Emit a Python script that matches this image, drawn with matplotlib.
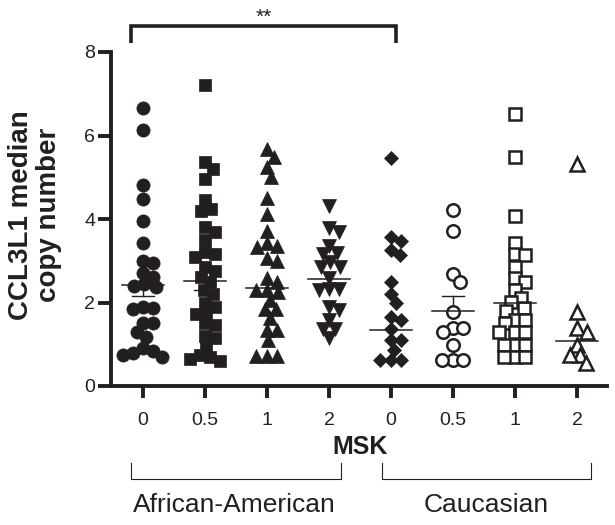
import numpy as np
import matplotlib
matplotlib.use("Agg")
import matplotlib.pyplot as plt
from matplotlib.transforms import blended_transform_factory

plt.rcParams['font.family'] = ['Liberation Sans', 'DejaVu Sans']

INK = '#231f20'

# ---- data ----
tick_labels = ['0', '0.5', '1', '2', '0', '0.5', '1', '2']
g_aa_0 = [6.67, 6.13, 4.81, 4.48, 3.95, 3.42, 3.00, 2.95, 2.70, 2.62, 2.45, 2.40, 2.38,
          1.90, 1.86, 1.85, 1.50, 1.50, 1.30, 1.18, 0.90, 0.85, 0.80, 0.75, 0.70]
g_aa_05 = [7.20, 5.37, 5.20, 4.95, 4.45, 4.25, 4.20, 3.80, 3.70, 3.50, 3.20, 3.15, 3.10,
           2.85, 2.75, 2.62, 2.50, 2.30, 2.20, 2.00, 1.90, 1.75, 1.72, 1.50, 1.45, 1.20,
           1.15, 0.95, 0.75, 0.70, 0.65, 0.60]
g_aa_1 = [5.68, 5.49, 5.24, 5.01, 4.51, 4.12, 3.71, 3.42, 3.35, 3.34, 3.06, 2.99, 2.58,
          2.50, 2.30, 2.30, 2.25, 2.06, 1.84, 1.84, 1.62, 1.34, 1.34, 1.09, 0.72, 0.72, 0.72]
g_aa_2 = [4.30, 3.78, 3.68, 3.35, 3.19, 3.15, 2.98, 2.86, 2.86, 2.58, 2.32, 2.32, 2.30,
          1.90, 1.82, 1.58, 1.37, 1.37, 1.14]
g_ca_0 = [5.45, 3.58, 3.48, 3.26, 3.14, 2.50, 2.20, 1.98, 1.66, 1.58, 1.36, 1.10, 1.10,
          0.86, 0.62, 0.62, 0.62]
g_ca_05 = [4.22, 3.72, 2.68, 2.50, 1.78, 1.40, 1.38, 1.30, 0.98, 0.62, 0.62, 0.62]
g_ca_1 = [6.51, 5.49, 4.08, 3.42, 3.16, 3.14, 2.86, 2.58, 2.50, 2.30, 2.10, 2.02, 1.86,
          1.80, 1.58, 1.58, 1.50, 1.30, 1.30, 1.30, 0.98, 0.98, 0.98, 0.69, 0.69, 0.69]
g_ca_2 = [5.32, 1.78, 1.38, 1.30, 0.98, 0.74, 0.74, 0.54]
centre_values = [2.41, 2.51, 2.34, 2.56, 1.34, 1.80, 2.00, 1.08]
# visible parts of the SEM whiskers (below / above the centre line)
err_below = [0.25, 0.21, 0.0, 0.0, 0.0, 0.0, 0.0, 0.0]
err_above = [0.0, 0.0, 0.0, 0.0, 0.0, 0.36, 0.0, 0.0]
groups = [g_aa_0, g_aa_05, g_aa_1, g_aa_2, g_ca_0, g_ca_05, g_ca_1, g_ca_2]
ethnic_labels = ['African-American', 'Caucasian']

# ---- styles ----
styles = [
    dict(marker='o', ms=9.5, mfc=INK, mec=INK, mew=0.5),
    dict(marker='s', ms=9.0, mfc=INK, mec=INK, mew=0.5),
    dict(marker='^', ms=9.5, mfc=INK, mec=INK, mew=0.5),
    dict(marker='v', ms=9.5, mfc=INK, mec=INK, mew=0.5),
    dict(marker='D', ms=6.8, mfc=INK, mec=INK, mew=0.5),
    dict(marker='o', ms=9.0, mfc='white', mec=INK, mew=1.8),
    dict(marker='s', ms=9.0, mfc='white', mec=INK, mew=1.8),
    dict(marker='^', ms=9.5, mfc='white', mec=INK, mew=1.8),
]

fig = plt.figure(figsize=(6.15, 5.25), dpi=100)
W, H = 615, 525
ax = fig.add_axes([111 / W, 1 - 386 / H, (607 - 111) / W, (386 - 52) / H])
ax.set_xlim(-0.516, 7.484)
ax.set_ylim(0, 8)

for s in ['top', 'right']:
    ax.spines[s].set_visible(False)
for s in ['left', 'bottom']:
    ax.spines[s].set_linewidth(2.8)
    ax.spines[s].set_color(INK)
    ax.spines[s].set_capstyle('projecting')

ax.set_yticks([0, 2, 4, 6, 8])
ax.set_xticks(range(8))
ax.set_xticklabels(tick_labels)
ax.tick_params(axis='y', direction='out', length=9.4, width=2.8, color=INK,
               labelsize=14, pad=2, labelcolor=INK)
ax.tick_params(axis='x', direction='out', length=8.6, width=2.8, color=INK,
               labelsize=14, pad=10, labelcolor=INK)

# pixel scale for swarm layout
px_per_x = (607 - 111) / (7.484 + 0.516)
px_per_y = (386 - 52) / 8.0
D = 10.5  # collision diameter in pixels


def swarm_offsets(vals):
    ypx = np.asarray(vals) * px_per_y
    order = np.argsort(-ypx, kind='stable')
    placed = []
    offs = np.zeros(len(vals))
    for i in order:
        y = ypx[i]
        cands = [0.0]
        for (px, py) in placed:
            dy = y - py
            if abs(dy) < D:
                dx = np.sqrt(D * D - dy * dy)
                cands += [px + dx, px - dx]
        cands = sorted(cands, key=lambda c: (abs(c), -c))
        for c in cands:
            if all((c - px) ** 2 + (y - py) ** 2 >= D * D - 1e-6 for px, py in placed):
                offs[i] = c
                placed.append((c, y))
                break
    return offs / px_per_x


mean_half = 0.34
cap_half = 0.18
for i, (vals, st) in enumerate(zip(groups, styles)):
    m = centre_values[i]
    lo = err_below[i]
    hi = err_above[i]
    if lo > 0:
        ax.plot([i, i], [m - lo, m], color=INK, lw=1.0, zorder=2)
        ax.plot([i - cap_half, i + cap_half], [m - lo, m - lo], color=INK, lw=1.0, zorder=2)
    if hi > 0:
        ax.plot([i, i], [m, m + hi], color=INK, lw=1.0, zorder=2)
        ax.plot([i - cap_half, i + cap_half], [m + hi, m + hi], color=INK, lw=1.0, zorder=2)
    xs = i + swarm_offsets(vals)
    ax.plot(xs, vals, ls='none', zorder=3, clip_on=False, **st)
    # centre line
    ax.plot([i - mean_half, i + mean_half], [m, m], color=INK, lw=1.1, zorder=4)

# significance bracket
ax.plot([-0.19, -0.19, 4.08, 4.08], [8.22, 8.62, 8.62, 8.22], color=INK, lw=2.6,
        clip_on=False, solid_joinstyle='miter', solid_capstyle='butt')
ax.text(1.95, 8.84, '**', ha='center', va='center', fontsize=15, color=INK)

# axis labels
fig.text(35 / W, 1 - 215 / H, 'CCL3L1 median\ncopy number', rotation=90, ha='center',
         va='center', fontsize=20, fontweight='bold', color=INK, linespacing=1.1,
         multialignment='center')
fig.text(360 / W, 1 - 447 / H, 'MSK', ha='center', va='center', fontsize=18,
         fontweight='bold', color=INK)

# group brackets
tr = blended_transform_factory(ax.transData, fig.transFigure)
y_leg = 1 - 463 / H
y_bar = 1 - 479 / H
for (x0, x1) in [(-0.19, 3.19), (3.85, 7.23)]:
    ax.plot([x0, x0, x1, x1], [y_leg, y_bar, y_bar, y_leg], color=INK, lw=0.8,
            transform=tr, clip_on=False)
fig.text(234 / W, 1 - 505 / H, ethnic_labels[0], ha='center', va='center', fontsize=19,
         color=INK)
fig.text(486 / W, 1 - 505 / H, ethnic_labels[1], ha='center', va='center', fontsize=19,
         color=INK)

fig.savefig('out.png', dpi=100, facecolor='white')
